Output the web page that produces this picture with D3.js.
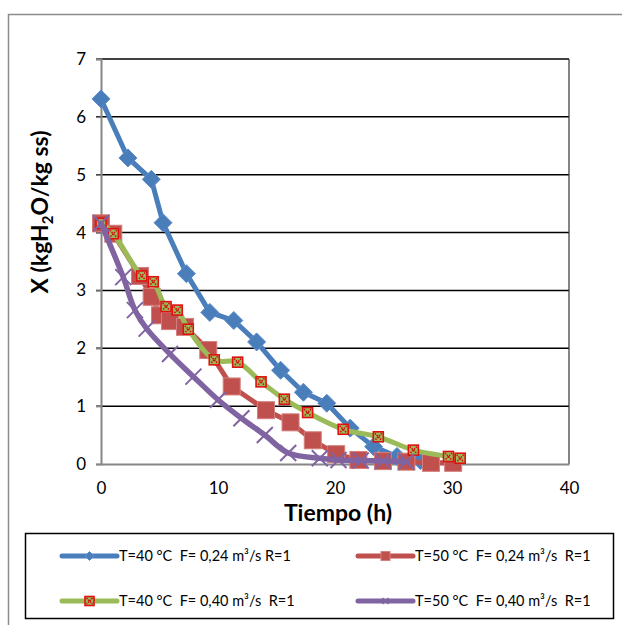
<!DOCTYPE html>
<html>
<head>
<meta charset="utf-8">
<script src="https://cdn.jsdelivr.net/npm/d3@7"></script>
<style>
  html, body { margin: 0; padding: 0; background: #fff; }
  .pre { white-space: pre; }
</style>
</head>
<body>
<svg id="chart" width="622" height="625"></svg>
<script>
// Drying curves: moisture content X vs time
const tBlue   = [0, 2.3, 4.3, 5.3, 7.3, 9.3, 11.35, 13.3, 15.35, 17.3, 19.3, 21.3, 23.3, 25.3, 27.3];
const xBlue   = [6.31, 5.29, 4.92, 4.17, 3.29, 2.62, 2.48, 2.11, 1.62, 1.24, 1.05, 0.62, 0.30, 0.13, 0.06];

const tRed    = [0, 1.05, 3.33, 4.33, 5.04, 5.9, 7.18, 9.17, 11.17, 14.1, 16.2, 18.1, 20.1, 22.0, 24.1, 26.1, 28.2, 30.1];
const xRed    = [4.16, 3.98, 3.25, 2.89, 2.57, 2.47, 2.37, 1.97, 1.34, 0.93, 0.72, 0.41, 0.17, 0.07, 0.05, 0.04, 0.02, 0.02];

const tGreen  = [0, 1.05, 3.48, 4.47, 5.56, 6.52, 7.46, 9.68, 11.68, 13.68, 15.67, 17.66, 20.7, 23.7, 26.7, 29.7, 30.7];
const xGreen  = [4.16, 3.98, 3.25, 3.15, 2.72, 2.66, 2.33, 1.80, 1.76, 1.42, 1.12, 0.89, 0.60, 0.47, 0.24, 0.13, 0.10];

const tPurple = [0, 1.9, 2.9, 3.9, 5.9, 7.9, 10.0, 12.0, 14.0, 16.0, 18.7, 20.3, 22.2, 24.1, 26.1];
const xPurple = [4.16, 3.23, 2.66, 2.34, 1.90, 1.51, 1.11, 0.79, 0.50, 0.19, 0.10, 0.07, 0.06, 0.05, 0.04];

const seriesNames = [
  "T=40 °C  F= 0,24 m³/s R=1",
  "T=50 °C  F= 0,24 m³/s  R=1",
  "T=40 °C  F= 0,40 m³/s  R=1",
  "T=50 °C  F= 0,40 m³/s  R=1"
];
const xTicks = [0, 10, 20, 30, 40];
const yTicks = [0, 1, 2, 3, 4, 5, 6, 7];
const xTitle = "Tiempo (h)";

const FONT = "Lato, 'Open Sans', sans-serif";
const svg = d3.select("#chart").attr("font-family", FONT);

const x = d3.scaleLinear().domain([0, 40]).range([101, 569]);
const y = d3.scaleLinear().domain([0, 7]).range([464, 59]);

// outer chart frame
svg.append("rect").attr("x", 8.5).attr("y", 14.5).attr("width", 700).attr("height", 700)
  .attr("fill", "none").attr("stroke", "#8c8c8c").attr("stroke-width", 1.5);

// gridlines
svg.append("g").selectAll("line").data(yTicks.filter(d => d > 0)).join("line")
  .attr("x1", x(0) - 5).attr("x2", x(40))
  .attr("y1", d => y(d)).attr("y2", d => y(d))
  .attr("stroke", "#000").attr("stroke-width", 1.5);

// right border
svg.append("line").attr("x1", x(40)).attr("x2", x(40)).attr("y1", y(7)).attr("y2", y(0))
  .attr("stroke", "#333").attr("stroke-width", 1.2);

// axes
const yAxis = d3.axisLeft(y).tickValues(yTicks).tickSize(5).tickPadding(10).tickFormat(d3.format("d"));
const gy = svg.append("g").attr("transform", `translate(${x(0)},0)`).call(yAxis);
gy.attr("font-family", FONT);
gy.select(".domain").attr("stroke", "#868686").attr("stroke-width", 2);
gy.selectAll(".tick line").attr("stroke", "#868686").attr("stroke-width", 1.5);
gy.selectAll(".tick text").attr("font-size", 17).attr("fill", "#000");

const xAxis = d3.axisBottom(x).tickValues(xTicks).tickSize(0).tickPadding(18).tickFormat(d3.format("d"));
const gx = svg.append("g").attr("transform", `translate(0,${y(0)})`).call(xAxis);
gx.attr("font-family", FONT);
gx.select(".domain").attr("stroke", "#868686").attr("stroke-width", 2);
gx.selectAll(".tick text").attr("font-size", 17).attr("fill", "#000");

// axis titles
svg.append("text").attr("x", (x(0) + x(40)) / 2 + 3).attr("y", 521)
  .attr("text-anchor", "middle").attr("font-size", 23).attr("font-weight", "bold")
  .text(xTitle);

const yt = svg.append("text")
  .attr("transform", "translate(48,212) rotate(-90)")
  .attr("text-anchor", "middle").attr("font-size", 23).attr("font-weight", "bold");
yt.append("tspan").text("X (kgH");
yt.append("tspan").attr("font-size", 15).attr("dy", 5).text("2");
yt.append("tspan").attr("dy", -5).text("O/kg ss)");

const colors = ["#4a7ebb", "#c0504d", "#9bbb59", "#8064a2"];
const data = [
  tBlue.map((t, i) => [t, xBlue[i]]),
  tRed.map((t, i) => [t, xRed[i]]),
  tGreen.map((t, i) => [t, xGreen[i]]),
  tPurple.map((t, i) => [t, xPurple[i]])
];
const curves = [d3.curveLinear, d3.curveLinear, d3.curveCatmullRom.alpha(0.5), d3.curveCatmullRom.alpha(0.5)];

// marker painters
function diamond(g, cx, cy, r) {
  g.append("path").attr("d", `M${cx},${cy - r}L${cx + r},${cy}L${cx},${cy + r}L${cx - r},${cy}Z`)
    .attr("fill", colors[0]).attr("stroke", "#5b8ccc").attr("stroke-width", 1);
}
function square(g, cx, cy, s) {
  g.append("rect").attr("x", cx - s / 2).attr("y", cy - s / 2).attr("width", s).attr("height", s)
    .attr("fill", colors[1]).attr("stroke", "#d47f7d").attr("stroke-width", 1);
}
function greenMark(g, cx, cy, s) {
  g.append("rect").attr("x", cx - s / 2).attr("y", cy - s / 2).attr("width", s).attr("height", s)
    .attr("fill", "#9bbb59").attr("stroke", "#e01010").attr("stroke-width", 1.6);
  const h = s / 2 - 1.5;
  g.append("path").attr("d", `M${cx - h},${cy - h}L${cx + h},${cy + h}M${cx + h},${cy - h}L${cx - h},${cy + h}`)
    .attr("stroke", "#d01010").attr("stroke-width", 1.6).attr("stroke-dasharray", "1.5,1");
}
function cross(g, cx, cy, r, w) {
  g.append("path").attr("d", `M${cx - r},${cy - r}L${cx + r},${cy + r}M${cx + r},${cy - r}L${cx - r},${cy + r}`)
    .attr("stroke", colors[3]).attr("stroke-width", w);
}
const painters = [
  (g, cx, cy) => diamond(g, cx, cy, 9),
  (g, cx, cy) => square(g, cx, cy, 17),
  (g, cx, cy) => greenMark(g, cx, cy, 10),
  (g, cx, cy) => cross(g, cx, cy, 8, 2)
];
const widths = [5, 5, 5, 5.5];

data.forEach((pts, i) => {
  const g = svg.append("g");
  g.append("path").datum(pts)
    .attr("d", d3.line().x(d => x(d[0])).y(d => y(d[1])).curve(curves[i]))
    .attr("fill", "none").attr("stroke", colors[i]).attr("stroke-width", widths[i])
    .attr("stroke-linejoin", "round").attr("stroke-linecap", "round");
  pts.forEach(d => painters[i](g, x(d[0]), y(d[1])));
});

// legend
svg.append("rect").attr("x", 25.5).attr("y", 533.5).attr("width", 588).attr("height", 85)
  .attr("fill", "#fff").attr("stroke", "#000").attr("stroke-width", 1.5);

const legPos = [[62, 556], [358, 556], [62, 601], [358, 601]];
const legPainters = [
  (g, cx, cy) => diamond(g, cx, cy, 4.5),
  (g, cx, cy) => square(g, cx, cy, 9),
  (g, cx, cy) => greenMark(g, cx, cy, 9),
  (g, cx, cy) => cross(g, cx, cy, 3, 1.5)
];
seriesNames.forEach((name, i) => {
  const [lx, ly] = legPos[i];
  const g = svg.append("g");
  g.append("line").attr("x1", lx).attr("x2", lx + 55).attr("y1", ly).attr("y2", ly)
    .attr("stroke", colors[i]).attr("stroke-width", 5).attr("stroke-linecap", "round");
  legPainters[i](g, lx + 27.5, ly);
  g.append("text").attr("class", "pre").attr("x", lx + 57).attr("y", ly + 5)
    .attr("font-size", 14.5).attr("fill", "#000").text(name);
});
</script>
</body>
</html>
